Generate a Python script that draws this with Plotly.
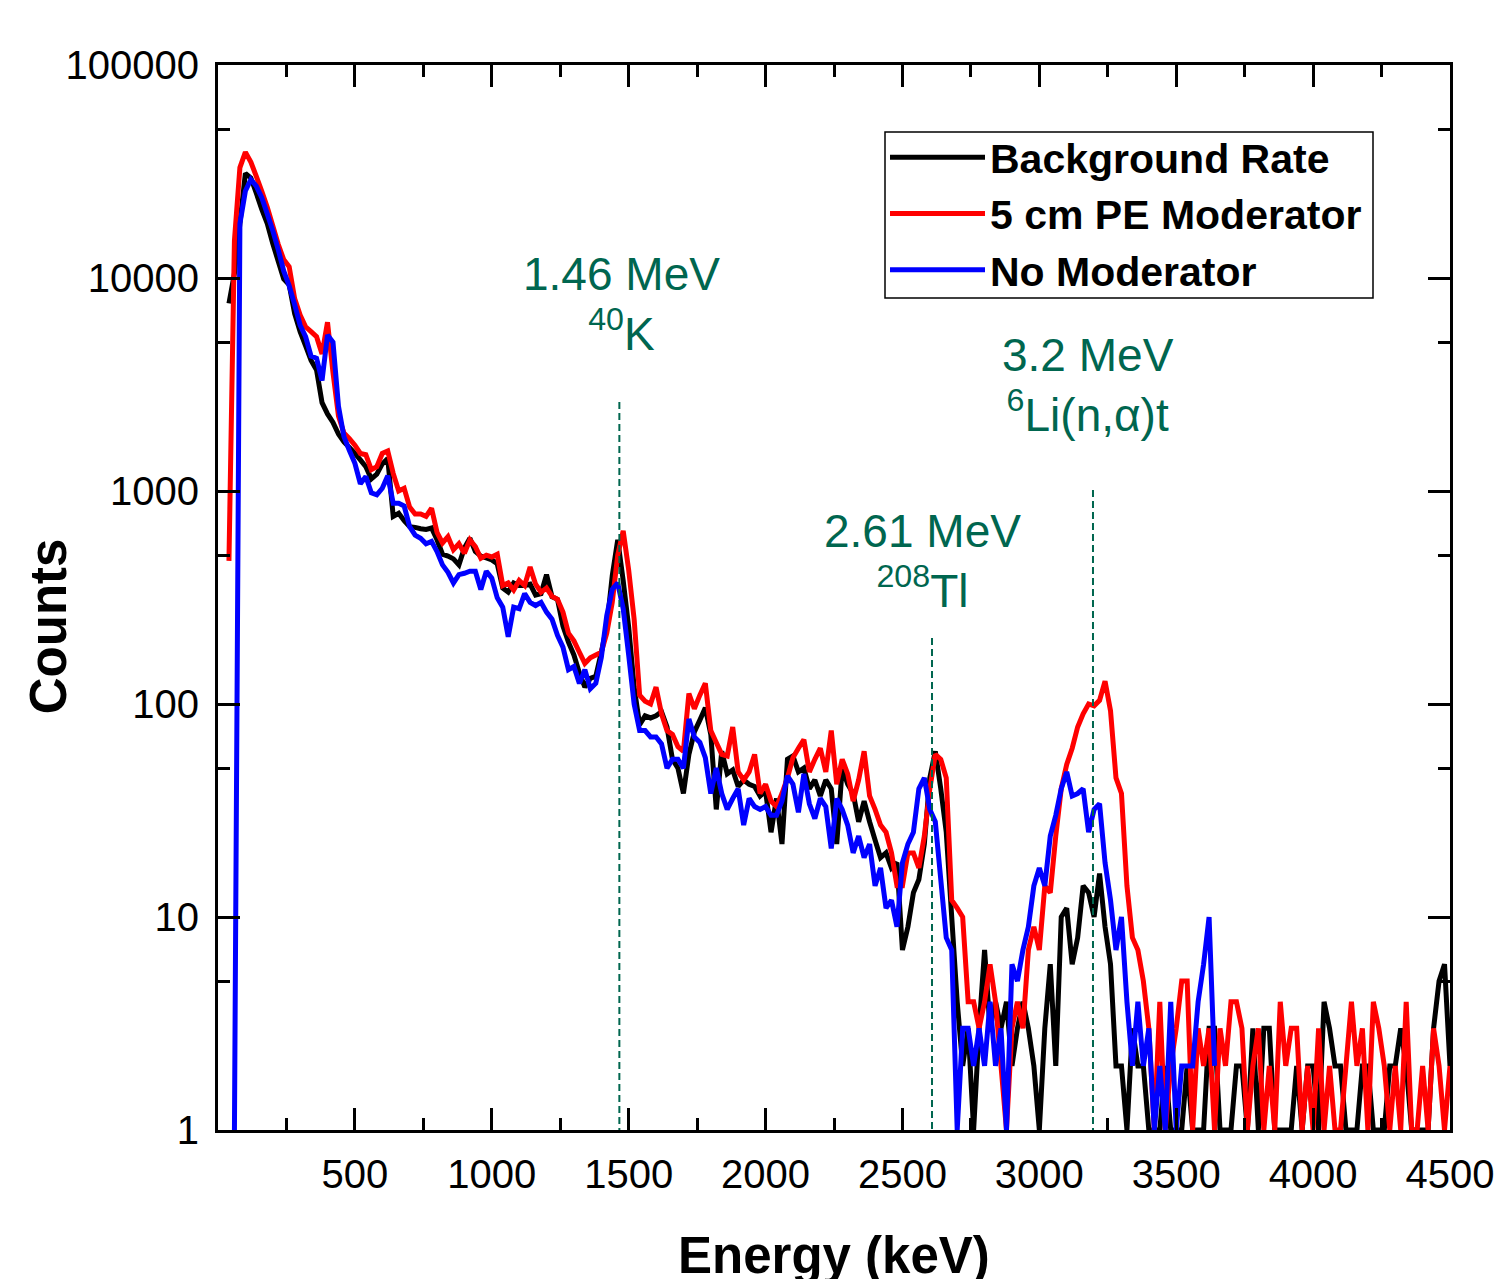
import plotly.graph_objects as go

# Energy bin centres (keV)
ENERGY_KEV = list(range(40, 4501, 20))

# Counts per bin
BACKGROUND = [
    7600, 10500, 18000, 31000, 29500, 25000, 21000, 18000, 14500, 12000, 9900, 9300,
    6800, 5600, 4800, 4100, 3700, 2600, 2300, 2100, 1850, 1700, 1600, 1500,
    1400, 1300, 1140, 1200, 1340, 1420, 760, 786, 725, 680, 675, 665, 660, 670, 590, 505,
    495, 480, 450, 540, 600, 520, 495, 485, 475, 455, 350, 335, 370, 360, 360, 365,
    325, 330, 405, 319, 310, 232, 195, 170, 140, 120, 132, 135, 175, 231, 400, 590,
    380, 230, 120, 80,
    88, 86, 88, 92, 78, 55, 50, 38, 58, 74, 84, 96, 72, 32, 60, 47, 49, 41, 44, 42,
    41, 37, 39, 25, 36, 22, 55, 57, 48, 50, 40, 44, 37, 44, 40, 22, 50, 42, 38, 28,
    35, 28, 23, 19, 20, 17, 18, 7,
    9, 13, 15, 22, 45, 60, 40, 25, 10, 4, 2, 3, 1, 3, 7, 3, 4, 3, 4, 2,
    3, 4, 3, 2, 1, 3, 6, 2, 10, 11, 6, 8, 14, 13, 10, 16, 9, 6, 2, 2, 1, 3, 2,
    2, 1, 1, 1, 2, 1, 1, 1, 2, 1, 1, 1, 3, 3, 1, 1, 1, 2, 2, 1,
    3, 1, 3, 3, 1, 1, 1, 1, 2, 1, 2, 2, 1, 4, 3, 2, 2, 1, 1, 1,
    2, 2, 1, 1, 1, 2, 2, 3, 2, 1, 1, 1, 1, 3, 5, 6, 2,
]

PE_MODERATOR = [
    470, 15000, 33000, 39000, 35000, 30000, 25500, 21500, 17600, 14400, 12200, 11300,
    8000, 6700, 5900, 5600, 5300, 4400, 6200, 3600, 2250, 1870, 1760, 1640,
    1500, 1480, 1260, 1300, 1500, 1540, 1210, 1000, 1030, 840, 780, 780, 760, 830, 640, 570,
    610, 530, 565, 510, 590, 548, 483, 500, 490, 505, 360, 370, 343, 380, 360, 440,
    365, 335, 350, 320, 310, 270, 215, 198, 175, 155, 165, 170, 175, 215, 300, 500,
    650, 426, 250, 110,
    103, 100, 120, 90, 75, 72, 63, 60, 112, 95, 110, 125, 75, 66, 58, 57, 78, 48, 44, 48,
    58, 38, 42, 35, 33, 38, 45, 56, 62, 68, 48, 55, 62, 48, 75, 42, 55, 47, 35, 44,
    60, 37, 32, 27, 25, 20, 14, 14,
    20, 20, 17, 24, 40, 58, 55, 45, 12, 11, 10, 4, 4, 3, 4, 6, 4, 2, 1, 3,
    4, 3, 7, 9, 7, 14, 13, 24, 40, 52, 62, 78, 90, 100, 98, 104, 128, 93, 45, 38, 14, 8, 7,
    5, 3, 1, 4, 1, 2, 3, 5, 5, 1, 3, 2, 3, 1, 3, 2, 4, 4, 3, 1,
    2, 3, 1, 2, 1, 4, 2, 3, 3, 1, 2, 1, 3, 1, 2, 1, 1, 2, 4, 2,
    3, 1, 4, 3, 2, 1, 2, 1, 4, 1, 1, 2, 1, 3, 2, 1, 2,
]

NO_MODERATOR = [
    None, 1, 18000, 25600, 29000, 27000, 23800, 20000, 16700, 13600, 10800, 9200,
    7500, 6000, 5300, 4300, 4200, 3300, 5400, 5000, 2500, 1800, 1550, 1350,
    1080, 1170, 980, 960, 1030, 1180, 875, 875, 850, 680, 620, 600, 565, 580, 520, 450,
    415, 370, 405, 411, 420, 420, 345, 420, 390, 315, 285, 207, 285, 280, 330, 300,
    290, 300, 270, 250, 210, 185, 145, 150, 125, 145, 118, 125, 165, 260, 345, 370,
    280, 170, 100, 75,
    75, 70, 70, 65, 50, 55, 55, 50, 85, 70, 66, 56, 38, 50, 38, 32, 36, 40, 27, 36,
    33, 32, 33, 30, 30, 35, 46, 42, 31, 47, 34, 29, 36, 33, 21, 36, 32, 27, 20, 24,
    19, 22, 14, 17, 11, 12, 9, 18,
    22, 25, 40, 45, 32, 28, 15, 8, 7, 1, 3, 3, 2, 3, 2, 4, 2, 3, 1, 6,
    5, 7, 9, 14, 17, 14, 24, 30, 40, 48, 37, 38, 40, 25, 32, 34, 18, 12, 7, 10, 4, 2, 4,
    2, 3, 1, 2, 1, 4, 1, 2, 2, 2, 4, 6, 10, 2,
]

SERIES_NAMES = ["Background Rate", "5 cm PE Moderator", "No Moderator"]
SERIES_COLORS = ["#000000", "#ff0000", "#0000ff"]

# Peak markers: energy (keV), top of dashed line (counts), label text
PEAK_ENERGY = [1466, 2608, 3196]
PEAK_LINE_TOP = [2620, 204, 1010]
PEAK_LABEL_X = [1475, 2575, 3178]
PEAK_LABEL_Y = [0.776, 0.534, 0.6995]
PEAK_LABELS = ["1.46 MeV<br><sup>40</sup>K",
               "2.61 MeV<br><sup>208</sup>Tl",
               "3.2 MeV<br><sup>6</sup>Li(n,α)t"]

X_TICKS = [500, 1000, 1500, 2000, 2500, 3000, 3500, 4000, 4500]
X_MINOR = [250, 750, 1250, 1750, 2250, 2750, 3250, 3750, 4250]
Y_TICKS = [1, 10, 100, 1000, 10000, 100000]
Y_MINOR = [5, 50, 500, 5000, 50000]

GREEN = "#00664f"
FONT = "Liberation Sans, Arial, sans-serif"

# plot-area pixel geometry (for the legend frame)
PLOT_L, PLOT_R, PLOT_T, PLOT_B = 218, 1450, 65, 1130
def px_to_paper_x(px):
    return (px - PLOT_L) / (PLOT_R - PLOT_L)
def px_to_paper_y(py):
    return (PLOT_B - py) / (PLOT_B - PLOT_T)

fig = go.Figure()
for name, color, vals in zip(SERIES_NAMES, SERIES_COLORS,
                             [BACKGROUND, PE_MODERATOR, NO_MODERATOR]):
    fig.add_trace(go.Scatter(
        x=ENERGY_KEV[:len(vals)], y=vals, mode="lines", name="<b>%s</b>" % name,
        line=dict(color=color, width=5, simplify=False),
    ))

for e, top in zip(PEAK_ENERGY, PEAK_LINE_TOP):
    fig.add_trace(go.Scatter(
        x=[e, e], y=[top, 1], mode="lines", showlegend=False, hoverinfo="skip",
        line=dict(color=GREEN, width=2, dash="7px,4px"),
    ))

for x, y, t in zip(PEAK_LABEL_X, PEAK_LABEL_Y, PEAK_LABELS):
    fig.add_annotation(x=x, y=y, xref="x", yref="paper", text=t, showarrow=False,
                       xanchor="center", yanchor="middle",
                       font=dict(family=FONT, size=46, color=GREEN))

fig.add_annotation(x=0.5, y=-0.1183, xref="paper", yref="paper",
                   text="<b>Energy (keV)</b>", showarrow=False,
                   xanchor="center", yanchor="middle",
                   font=dict(family=FONT, size=51, color="black"))
fig.add_annotation(x=-0.138, y=0.473, xref="paper", yref="paper",
                   text="<b>Counts</b>", showarrow=False, textangle=-90,
                   xanchor="center", yanchor="middle",
                   font=dict(family=FONT, size=51, color="black"))

# legend frame
fig.add_shape(type="rect", xref="paper", yref="paper",
              x0=px_to_paper_x(885), x1=px_to_paper_x(1373),
              y0=px_to_paper_y(298), y1=px_to_paper_y(132),
              line=dict(color="black", width=1.5), fillcolor="rgba(0,0,0,0)",
              layer="above")

axis_common = dict(
    showline=True, linecolor="black", linewidth=3, mirror="ticks",
    ticks="inside", ticklen=22, tickwidth=3, tickcolor="black",
    showgrid=False, zeroline=False, automargin=False,
    ticklabeloverflow="allow",
    tickfont=dict(family=FONT, size=40, color="black"),
)

fig.update_layout(
    width=1494, height=1279,
    margin=dict(l=PLOT_L, r=1494 - PLOT_R, t=PLOT_T, b=1279 - PLOT_B),
    paper_bgcolor="white", plot_bgcolor="white",
    xaxis=dict(range=[0, 4500], tickmode="array", tickvals=X_TICKS,
               ticktext=[str(v) for v in X_TICKS], ticklabelstandoff=7,
               minor=dict(tickmode="array", tickvals=X_MINOR, ticks="inside",
                          ticklen=12, tickwidth=3, tickcolor="black", showgrid=False),
               **axis_common),
    yaxis=dict(type="log", range=[0, 5], tickmode="array", tickvals=Y_TICKS,
               ticktext=[str(v) for v in Y_TICKS], ticklabelstandoff=8,
               minor=dict(tickmode="array", tickvals=Y_MINOR, ticks="inside",
                          ticklen=12, tickwidth=3, tickcolor="black", showgrid=False),
               **axis_common),
    legend=dict(x=px_to_paper_x(885), y=px_to_paper_y(124),
                xanchor="left", yanchor="top",
                bgcolor="rgba(0,0,0,0)", borderwidth=0,
                itemwidth=95, tracegroupgap=0,
                font=dict(family=FONT, size=41, color="black")),
    showlegend=True,
)

fig.write_html("out.html")
